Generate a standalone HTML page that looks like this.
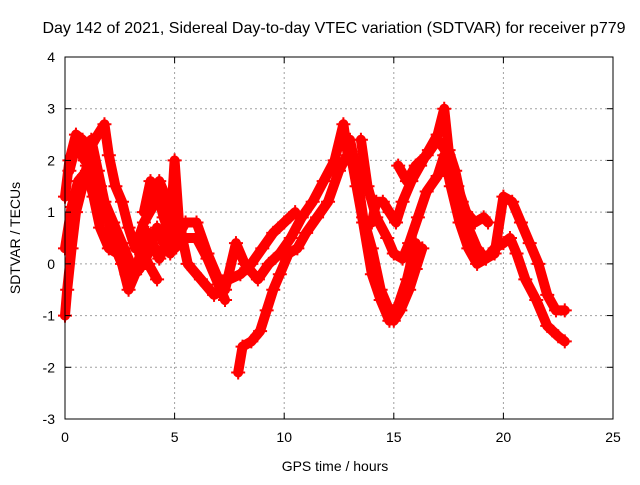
<!DOCTYPE html>
<html><head><meta charset="utf-8"><style>
body{margin:0;background:#fff}
svg text{font-family:"Liberation Sans",sans-serif;font-size:14px;fill:#000}
</style></head><body>
<svg id="chart" width="640" height="480" xmlns="http://www.w3.org/2000/svg">
<rect width="640" height="480" fill="#fff"/>
<text x="334" y="33" text-anchor="middle" style="font-size:16px">Day 142 of 2021, Sidereal Day-to-day VTEC variation (SDTVAR) for receiver p779</text>
<g id="grid"></g>
<g id="marks"></g>
<rect x="65" y="57" width="548" height="362" fill="none" stroke="#000" stroke-width="1"/>
<g id="ticks"></g>
<text x="335" y="471" text-anchor="middle">GPS time / hours</text>
<text x="20" y="238" text-anchor="middle" transform="rotate(-90 20 238)">SDTVAR / TECUs</text>
</svg>
<script>
const xTicks=[0,5,10,15,20,25];
const yTicks=[-3,-2,-1,0,1,2,3,4];
const track1=[[0,-1],[0.1,-0.5],[0.3,0.3],[0.5,1],[0.8,1.5],[1.0,1.9],[1.3,2.0],[1.6,1.5],[2.0,0.8],[2.3,0.3],[2.6,0],[2.9,-0.5],[3.2,-0.2],[3.5,0.3],[3.8,0],[4.2,-0.3]];
const track2=[[0,1.3],[0.2,2.0],[0.5,2.5],[0.8,2.4],[1.1,2.2],[1.5,2.5],[1.8,2.7],[2.0,2.1],[2.3,1.5],[2.6,1.2],[2.9,0.7],[3.2,0.3],[3.6,0.8],[4.0,1.1],[4.3,1.6],[4.6,1.3],[4.9,1.0],[5.1,0.5],[5.5,0.8],[6.0,0.8],[6.5,0.2],[7,-0.3],[7.5,-0.3],[8,-0.2],[8.5,0],[9,0.3],[9.5,0.6],[10,0.8],[10.5,1.0]];
const track3=[[0,0.3],[0.3,1.1],[0.6,1.6],[1.0,1.8],[1.3,1.3],[1.6,0.7],[2.0,0.3],[2.4,0.2],[2.8,-0.2],[3.3,0],[3.8,0.6],[4.3,0.1],[4.8,0.6],[5.0,2.0],[5.2,0.8],[5.6,0],[6.2,-0.3],[6.8,-0.6],[7.3,-0.5],[7.8,0.4],[8.2,0],[8.8,-0.3],[9.3,0],[9.8,0.2],[10.3,0.5],[10.8,0.9],[11.3,1.2],[11.8,1.6],[12.3,2.0],[12.7,2.7],[12.9,2.1]];
const track4=[[7.9,-2.1],[8.1,-1.6],[8.5,-1.5],[8.9,-1.3],[9.2,-0.9],[9.5,-0.5],[9.8,-0.2],[10.2,0.2],[10.6,0.3],[11.0,0.6],[11.5,0.9],[12.0,1.2],[12.5,1.8],[13.0,2.2],[13.3,1.5],[13.6,0.8],[14.0,-0.2],[14.4,-0.7],[14.8,-1.1],[15.2,-0.8],[15.6,-0.3],[16.0,0.4]];
const track5=[[13.0,2.4],[13.3,1.8],[13.6,0.9],[14.0,0.3],[14.4,-0.5],[14.8,-0.9],[15.0,-1.1],[15.3,-0.9],[15.7,-0.5],[16.0,-0.1],[16.3,0.3]];
const track6=[[13.5,2.4],[13.8,1.5],[14.2,0.9],[14.7,0.5],[15.0,0.2],[15.4,0.1],[15.7,0.4],[16.1,0.9],[16.5,1.4],[17.0,1.7],[17.3,2.1],[17.6,1.5],[18.0,0.8],[18.4,0.3],[18.8,0],[19.2,0.1],[19.6,0.3],[20.0,0.4],[20.3,0.5],[20.6,0.2],[21,-0.3],[21.5,-0.7],[22,-1.2],[22.5,-1.4],[22.8,-1.5]];
const track7=[[14.0,0.8],[14.2,1.2],[14.5,1.2],[14.8,1.0],[15.1,0.8],[15.4,1.2],[15.8,1.6],[16.2,1.9],[16.6,2.2],[17.0,2.5],[17.3,3.0],[17.5,2.2],[17.8,1.8],[18.1,1.2],[18.4,0.7],[18.8,0.3],[19.2,0.1],[19.6,0.2],[20.0,1.3],[20.4,1.2],[20.8,0.8],[21.2,0.4],[21.6,0],[22.0,-0.6],[22.4,-0.9],[22.8,-0.9]];
const track8=[[15.2,1.9],[15.6,1.6],[16.0,1.9],[16.5,2.1],[17.0,2.4],[17.5,2.1],[17.9,1.5],[18.3,1.0],[18.7,0.8],[19.1,0.9],[19.3,0.8]];
const track9=[[0.2,1.8],[0.5,2.3],[0.9,2.0],[1.2,2.4],[1.5,1.8],[1.8,1.2],[2.2,0.8],[2.6,0.4],[3.0,0],[3.4,-0.1],[3.8,0.2],[4.2,0.7],[4.5,0.4],[4.8,0.2]];
const track10=[[3.6,1.0],[3.9,1.6],[4.2,1.4],[4.5,0.9],[5.0,0.3],[5.5,0.5],[6.0,0.5],[6.5,0.1],[7.0,-0.4],[7.3,-0.7]];
const tracks=[track1,track2,track3,track4,track5,track6,track7,track8,track9,track10];

const X0=65,X1=613,Y0=419,Y1=57;
function xs(h){return X0+(h-0)/(25-0)*(X1-X0);}
function ys(v){return Y0-(v+3)/(4+3)*(Y0-Y1);}
const NS='http://www.w3.org/2000/svg';
const grid=document.getElementById('grid'),ticks=document.getElementById('ticks'),marks=document.getElementById('marks');
function mk(t,a,p){const e=document.createElementNS(NS,t);for(const k in a)e.setAttribute(k,a[k]);p.appendChild(e);return e;}
xTicks.forEach(t=>{const x=xs(t);
 if(t>0&&t<25){const g=mk('line',{x1:x,x2:x,y1:Y1,y2:Y0,stroke:'#a0a0a0','stroke-dasharray':'2,3'},grid);
 
 }
 mk('line',{x1:x,x2:x,y1:Y0,y2:Y0-6,stroke:'#000'},ticks);mk('line',{x1:x,x2:x,y1:Y1,y2:Y1+6,stroke:'#000'},ticks);
 const l=mk('text',{x:x,y:Y0+23,'text-anchor':'middle'},ticks);l.textContent=t;
 
 });
yTicks.forEach(t=>{const y=ys(t);
 if(t>-3&&t<4){const g=mk('line',{x1:X0,x2:X1,y1:y,y2:y,stroke:'#a0a0a0','stroke-dasharray':'2,3'},grid);
 
 }
 mk('line',{x1:X0,x2:X0+6,y1:y,y2:y,stroke:'#000'},ticks);mk('line',{x1:X1,x2:X1-6,y1:y,y2:y,stroke:'#000'},ticks);
 const l=mk('text',{x:X0-10,y:y+5,'text-anchor':'end'},ticks);l.textContent=t;
 
 });
tracks.forEach((tr,i)=>{
 const pl=mk('polyline',{points:tr.map(p=>xs(p[0])+','+ys(p[1])).join(' '),fill:'none',stroke:'#f00','stroke-width':10,'stroke-linejoin':'round','stroke-linecap':'round'},marks);
 
 
 tr.forEach(p=>{const x=xs(p[0]),y=ys(p[1]);
  const m=mk('path',{d:`M${x-7},${y}H${x+7}M${x},${y-7}V${y+7}`,stroke:'#f00','stroke-width':2},marks);
  
  });
});
</script>
</body></html>
